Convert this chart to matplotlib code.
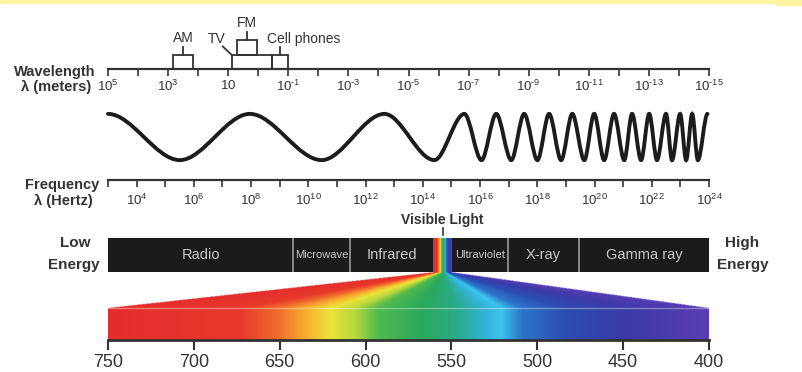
import numpy as np
import matplotlib.pyplot as plt
from matplotlib.patches import Rectangle, PathPatch
from matplotlib.path import Path
from matplotlib.colors import LinearSegmentedColormap

plt.rcParams['font.family'] = ['Liberation Sans', 'DejaVu Sans']
plt.rcParams['mathtext.fontset'] = 'custom'
plt.rcParams['mathtext.rm'] = 'Liberation Sans'
plt.rcParams['mathtext.it'] = 'Liberation Sans:italic'
plt.rcParams['mathtext.bf'] = 'Liberation Sans:bold'

# wavelength scale, log10(metres)
wl_decades = list(range(5, -16, -1))
wl_labelled = [5, 3, 1, -1, -3, -5, -7, -9, -11, -13, -15]

# frequency scale, log10(Hz)
freq_decades = list(range(3, 25))
freq_labelled = [4, 6, 8, 10, 12, 14, 16, 18, 20, 22, 24]

# radio services over the wavelength scale, log10(m)
svc_names = ['AM', 'TV', 'FM', 'Cell phones']
svc_from = [2.85, 0.88, 0.72, -0.45]
svc_to = [2.16, -0.45, 0.05, -1.0]

# crests (+1) and troughs (-1) of the drawn wave, log10(m)
wave_x = [5.0, 2.61, 0.28, -2.11, -4.20, -5.86, -6.86, -7.43, -7.92, -8.42,
          -8.85, -9.29, -9.68, -10.08, -10.45, -10.85, -11.18, -11.51, -11.84,
          -12.18, -12.44, -12.74, -13.01, -13.27, -13.57, -13.77, -14.04,
          -14.24, -14.44, -14.63, -14.95]
wave_y = [1 if i % 2 == 0 else -1 for i in range(len(wave_x))]

# spectrum bands, log10(m)
band_names = ['Radio', 'Microwave', 'Infrared', 'Visible', 'Ultraviolet', 'X-ray', 'Gamma ray']
band_edges = [5, -1.16, -3.05, -5.82, -6.45, -8.31, -10.67, -15]

# visible light scale, nm
vis_nm = [750, 700, 650, 600, 550, 500, 450, 400]
spec_pos = [0.0, 0.22, 0.28, 0.33, 0.37, 0.41, 0.45, 0.52, 0.58, 0.63, 0.655, 0.69, 0.76, 0.86, 1.0]
spec_col = ['#e42d2b', '#e8382c', '#ef6a2b', '#f6b02f', '#ece43a', '#b8d83e', '#4fba4f',
            '#2ba95b', '#2aa988', '#33b4dc', '#3ec3ee', '#2d74ca', '#2c4db3', '#3b3aa8', '#5a3db3']
cmap = LinearSegmentedColormap.from_list('spec', list(zip(spec_pos, spec_col)))

W, H = 803, 372
fig = plt.figure(figsize=(W / 100, H / 100), dpi=100)
fig.patch.set_facecolor('white')
ink = '#333333'


def px_axes(x0, y0, x1, y1):
    return fig.add_axes([x0 / W, 1 - y1 / H, (x1 - x0) / W, (y1 - y0) / H])


def ftext(x, y, s, **kw):
    fig.text(x / W, 1 - y / H, s, **kw)


def pow10(d):
    if d == 1:
        return r'$\mathregular{10}$'
    e = str(d).replace('-', r'\text{-}')
    return rf'$\mathregular{{10^{{{e}}}}}$'


# yellow strip at top
fig.patches.append(Rectangle((0, 1 - 3 / H), 776 / W, 3 / H, transform=fig.transFigure,
                             color='#fff4a3', zorder=0))
fig.patches.append(Rectangle((776 / W, 1 - 5 / H), 27 / W, 5 / H, transform=fig.transFigure,
                             color='#fff4a3', zorder=0))

X0, X1 = 108, 709

# ---- wavelength scale with radio services
ax_wl = px_axes(X0, 10, X1, 69)
ax_wl.set_xlim(5, -15)
ax_wl.set_ylim(69, 10)
for s in ['top', 'left', 'right']:
    ax_wl.spines[s].set_visible(False)
ax_wl.spines['bottom'].set_color(ink)
ax_wl.spines['bottom'].set_linewidth(1.6)
ax_wl.set_yticks([])
ax_wl.set_xticks(wl_decades)
ax_wl.set_xticklabels([pow10(d) if d in wl_labelled else '' for d in wl_decades])
ax_wl.tick_params(axis='x', direction='out', length=5, width=1.2, colors=ink,
                  labelsize=9.5, pad=2)
ax_wl.patch.set_alpha(0)

for name, a, b in zip(svc_names, svc_from, svc_to):
    c = (a + b) / 2
    if name == 'FM':
        top, bot = 40, 55
    else:
        top, bot = 55, 69
    ax_wl.add_patch(Rectangle((a, top), b - a, bot - top, fill=False, ec=ink, lw=1.3,
                              clip_on=False))
    if name == 'TV':
        # x axis runs right-to-left in log wavelength: larger value = further left
        ax_wl.plot([a + 0.3, a], [46.5, top], color=ink, lw=1.3, clip_on=False)
        ax_wl.text(a + 0.52, 39, name, ha='center', va='center', fontsize=10, color=ink)
    else:
        ax_wl.plot([c, c], [top - 8, top], color=ink, lw=1.3, clip_on=False)
        if name == 'Cell phones':
            ax_wl.text(c + 0.45, 39, name, ha='left', va='center', fontsize=10, color=ink)
        else:
            ax_wl.text(c, top - 17, name, ha='center', va='center', fontsize=10, color=ink)

ftext(95, 72, 'Wavelength', ha='right', va='center', fontsize=10.5, weight='bold', color=ink)
ftext(91, 87, 'λ (meters)', ha='right', va='center', fontsize=10.5, weight='bold', color=ink)

# ---- wave
ax_wave = px_axes(X0, 100, X1, 174)
ax_wave.set_xlim(5, -15)
ax_wave.set_ylim(-1.6, 1.6)
ax_wave.axis('off')
verts = [(wave_x[0], wave_y[0])]
codes = [Path.MOVETO]
for i in range(len(wave_x) - 1):
    xa, ya, xb, yb = wave_x[i], wave_y[i], wave_x[i + 1], wave_y[i + 1]
    dx = xb - xa
    verts += [(xa + dx / 3, ya), (xb - dx / 3, yb), (xb, yb)]
    codes += [Path.CURVE4] * 3
ax_wave.add_patch(PathPatch(Path(verts, codes), fill=False, ec='#1c1c1c', lw=2.8,
                            capstyle='round', clip_on=False))

# ---- frequency scale
ax_fr = px_axes(X0, 170, X1, 180)
ax_fr.set_xlim(3, 24)
for s in ['top', 'left', 'right']:
    ax_fr.spines[s].set_visible(False)
ax_fr.spines['bottom'].set_color(ink)
ax_fr.spines['bottom'].set_linewidth(1.6)
ax_fr.set_yticks([])
ax_fr.set_xticks(freq_decades)
ax_fr.set_xticklabels([pow10(d) if d in freq_labelled else '' for d in freq_decades])
ax_fr.tick_params(axis='x', direction='out', length=5, width=1.2, colors=ink,
                  labelsize=9.5, pad=4)
ax_fr.patch.set_alpha(0)
ftext(99, 185, 'Frequency', ha='right', va='center', fontsize=10.5, weight='bold', color=ink)
ftext(93, 201, 'λ (Hertz)', ha='right', va='center', fontsize=10.5, weight='bold', color=ink)

# ---- band bar
ax_band = px_axes(X0, 238, X1, 272)
ax_band.set_xlim(5, -15)
ax_band.set_ylim(0, 1)
ax_band.axis('off')
for i, name in enumerate(band_names):
    a, b = band_edges[i], band_edges[i + 1]
    if name == 'Visible':
        grad = np.linspace(0, 1, 64).reshape(1, -1)
        ax_band.imshow(grad, cmap=cmap, extent=(a, b, 0, 1), aspect='auto',
                       interpolation='bilinear')
        ax_band.plot([(a + b) / 2] * 2, [1.1, 1.3], color=ink, lw=1.2, clip_on=False)
        ax_band.text((a + b) / 2, 1.53, 'Visible Light', ha='center', va='center',
                     fontsize=10, weight='bold', color=ink)
        continue
    ax_band.barh(0.5, b - a, left=a, height=1, color='#1b1b1b', lw=0)
    narrow = name in ('Microwave', 'Ultraviolet')
    ax_band.text((a + b) / 2, 0.5, name, ha='center', va='center', color='#c8c8c8',
                 fontsize=8 if narrow else 10.5,
                 family=['Liberation Sans Narrow', 'Liberation Sans'] if narrow
                 else ['Liberation Sans'])
for i in range(1, len(band_edges) - 1):
    if 'Visible' in (band_names[i - 1], band_names[i]):
        continue
    ax_band.plot([band_edges[i]] * 2, [0, 1], color='#9a9a9a', lw=1.2)

ftext(75, 243, 'Low', ha='center', va='center', fontsize=11, weight='bold', color=ink)
ftext(74, 265, 'Energy', ha='center', va='center', fontsize=11, weight='bold', color=ink)
ftext(742, 243, 'High', ha='center', va='center', fontsize=11, weight='bold', color=ink)
ftext(743, 265, 'Energy', ha='center', va='center', fontsize=11, weight='bold', color=ink)

# ---- visible spectrum bar and fan
ax_sp = px_axes(X0, 272, X1, 340)
ax_sp.set_xlim(750, 400)
ax_sp.set_ylim(0, 68)
for s in ['top', 'left', 'right']:
    ax_sp.spines[s].set_visible(False)
ax_sp.spines['bottom'].set_color(ink)
ax_sp.spines['bottom'].set_linewidth(2)
ax_sp.set_yticks([])
ax_sp.set_xticks(vis_nm)
ax_sp.set_xticklabels([str(v) for v in vis_nm])
ax_sp.tick_params(axis='x', direction='out', length=7, width=1.5, colors=ink,
                  labelsize=13, pad=3)

# visible band edges mapped into nm coordinates
vi = band_names.index('Visible')
to_nm = lambda lw: ax_sp.transData.inverted().transform(
    ax_band.transData.transform((lw, 0)))[0]
vl, vr = to_nm(band_edges[vi]), to_nm(band_edges[vi + 1])

bar_top, fan_top = 32, 68
nx, ny = 1200, 136
xs = np.linspace(750, 400, nx)
ys = np.linspace(0, fan_top, ny)
XX, YY = np.meshgrid(xs, ys)
s = np.clip((YY - bar_top) / (fan_top - bar_top), 0, 1)
L = 750 + s * (vl - 750)
R = 400 + s * (vr - 400)
T = (L - XX) / (L - R)
img = cmap(np.clip(T, 0, 1))
img[..., 3] = ((T >= 0) & (T <= 1)).astype(float)
ax_sp.imshow(img, extent=(750, 400, 0, fan_top), origin='lower', aspect='auto',
             interpolation='bilinear')
ax_sp.axhline(bar_top, color='white', alpha=0.35, lw=1)

fig.savefig('out.png', dpi=100, facecolor='white')
